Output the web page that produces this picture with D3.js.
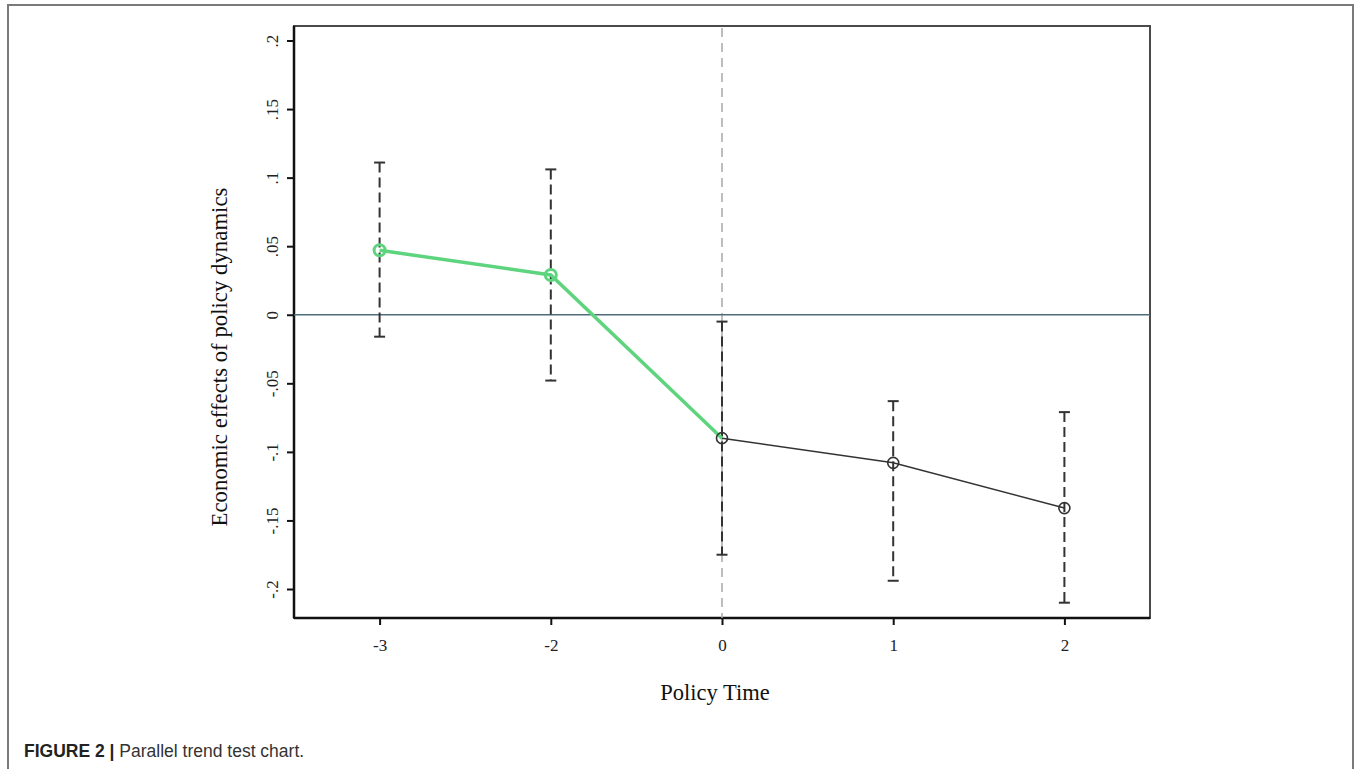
<!DOCTYPE html>
<html>
<head>
<meta charset="utf-8">
<script src="https://cdn.jsdelivr.net/npm/d3@7/dist/d3.min.js"></script>
<style>
  html, body { margin: 0; padding: 0; background: #fff; }
  svg { display: block; }
</style>
</head>
<body>
<svg id="chart" width="1356" height="769"></svg>
<script>
// ---- data ----
const categories = ["-3", "-2", "0", "1", "2"];
const estimates  = [0.047, 0.029, -0.090, -0.108, -0.141];
const ciUpper    = [0.111, 0.106, -0.005, -0.063, -0.071];
const ciLower    = [-0.016, -0.048, -0.175, -0.194, -0.210];
const yTicks     = [0.2, 0.15, 0.1, 0.05, 0, -0.05, -0.1, -0.15, -0.2];
const yTickLabels = [".2", ".15", ".1", ".05", "0", "-.05", "-.1", "-.15", "-.2"];
const preCount = 3; // points joined by the green (pre-policy) segment

const serif = "'Liberation Serif', 'Times New Roman', serif";
const svg = d3.select("#chart");

// outer figure frame
svg.append("path")
  .attr("d", "M8,769 L8,5 L1353,5 L1353,769")
  .attr("fill", "none").attr("stroke", "#7a7a7a").attr("stroke-width", 2);

const pLeft = 294, pRight = 1150, pTop = 26, pBottom = 618;

const x = d3.scalePoint().domain(categories).range([pLeft, pRight]).padding(0.5);
const y = d3.scaleLinear().domain([-0.2, 0.2]).range([589, 40.5]);

// plot frame
svg.append("rect")
  .attr("x", pLeft).attr("y", pTop).attr("width", pRight - pLeft).attr("height", pBottom - pTop)
  .attr("fill", "none").attr("stroke", "#4a4a4a").attr("stroke-width", 2);

// y axis
const yAxis = svg.append("g").attr("transform", `translate(${pLeft},0)`)
  .call(d3.axisLeft(y).tickValues(yTicks).tickSize(7).tickPadding(0)
    .tickFormat((d, i) => yTickLabels[i]));
yAxis.attr("font-size", null).attr("font-family", null);
yAxis.select(".domain").attr("d", `M0,${pTop}V${pBottom}`).attr("stroke", "#111").attr("stroke-width", 2.5);
yAxis.selectAll(".tick line").attr("stroke", "#111").attr("stroke-width", 2);
yAxis.selectAll(".tick text")
  .style("font-family", serif)
  .style("font-size", "17px")
  .attr("fill", "#222")
  .attr("x", 0).attr("dy", 0)
  .attr("text-anchor", "middle")
  .attr("transform", "translate(-16,0) rotate(-90)");

// x axis
const xAxis = svg.append("g").attr("transform", `translate(0,${pBottom})`)
  .call(d3.axisBottom(x).tickSize(7).tickPadding(14));
xAxis.attr("font-size", null).attr("font-family", null);
xAxis.select(".domain").attr("d", `M${pLeft},0H${pRight}`).attr("stroke", "#111").attr("stroke-width", 2.5);
xAxis.selectAll(".tick line").attr("stroke", "#111").attr("stroke-width", 2);
xAxis.selectAll(".tick text")
  .style("font-family", serif)
  .style("font-size", "17px")
  .attr("fill", "#222");

// reference lines
svg.append("line")
  .attr("x1", x("0")).attr("x2", x("0")).attr("y1", pTop + 2).attr("y2", pBottom)
  .attr("stroke", "#a8a8a8").attr("stroke-width", 1.5).attr("stroke-dasharray", "9,6");
svg.append("line")
  .attr("x1", pLeft).attr("x2", pRight).attr("y1", y(0)).attr("y2", y(0))
  .attr("stroke", "#4f6c7c").attr("stroke-width", 1.6);

// error bars
const eb = svg.append("g");
categories.forEach((c, i) => {
  const cx = x(c);
  eb.append("line")
    .attr("x1", cx).attr("x2", cx).attr("y1", y(ciUpper[i])).attr("y2", y(ciLower[i]))
    .attr("stroke", "#333").attr("stroke-width", 2).attr("stroke-dasharray", "10,5");
  [ciUpper[i], ciLower[i]].forEach(v => {
    eb.append("line")
      .attr("x1", cx - 5.5).attr("x2", cx + 5.5).attr("y1", y(v)).attr("y2", y(v))
      .attr("stroke", "#333").attr("stroke-width", 2);
  });
});

// lines
const pts = categories.map((c, i) => [x(c), y(estimates[i])]);
const line = d3.line();
svg.append("path").attr("d", line(pts.slice(preCount - 1)))
  .attr("fill", "none").attr("stroke", "#333").attr("stroke-width", 1.5);
svg.append("path").attr("d", line(pts.slice(0, preCount)))
  .attr("fill", "none").attr("stroke", "#5fd47e").attr("stroke-width", 3.5);

// markers
categories.forEach((c, i) => {
  const green = i < preCount - 1;
  svg.append("circle")
    .attr("cx", x(c)).attr("cy", y(estimates[i])).attr("r", 5.5)
    .attr("fill", "none")
    .attr("stroke", green ? "#5fd47e" : "#333")
    .attr("stroke-width", green ? 3 : 1.6);
});

// axis titles
svg.append("text")
  .attr("transform", "translate(227,357) rotate(-90)")
  .attr("text-anchor", "middle")
  .style("font-family", serif).style("font-size", "22.8px")
  .attr("fill", "#111")
  .text("Economic effects of policy dynamics");
svg.append("text")
  .attr("x", 715).attr("y", 700)
  .attr("text-anchor", "middle")
  .style("font-family", serif).style("font-size", "22.5px")
  .attr("fill", "#111")
  .text("Policy Time");

// caption
const cap = svg.append("text")
  .attr("x", 24).attr("y", 757)
  .style("font-family", "'Liberation Sans', Arial, sans-serif")
  .style("font-size", "17.5px")
  .attr("fill", "#333");
cap.append("tspan").attr("font-weight", "bold").attr("fill", "#222").text("FIGURE 2 | ");
cap.append("tspan").text("Parallel trend test chart.");
</script>
</body>
</html>
